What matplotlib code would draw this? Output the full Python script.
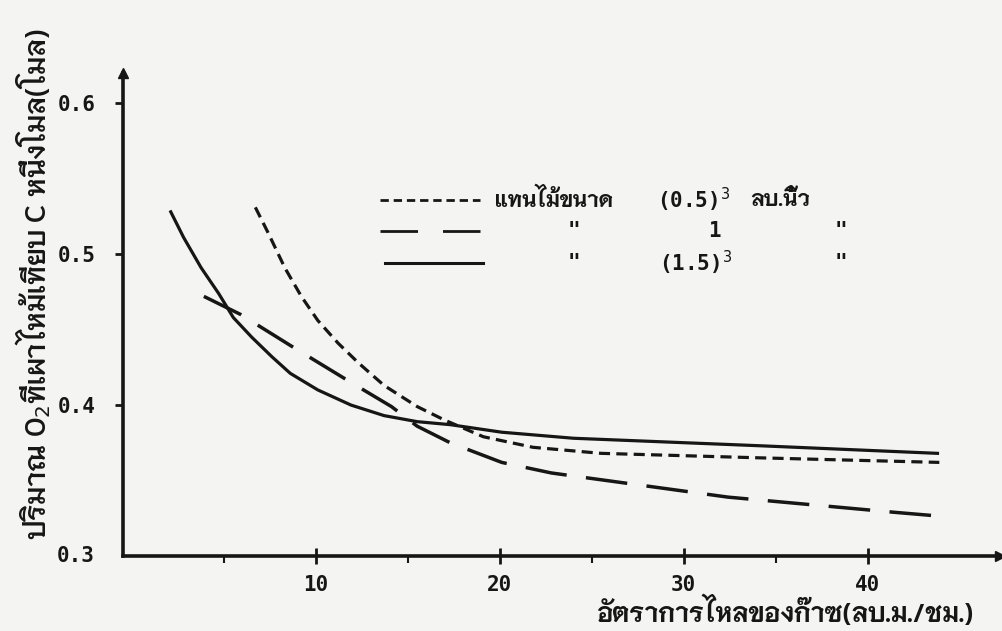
import matplotlib
matplotlib.use("Agg")
import matplotlib.pyplot as plt

# flow rate of gas (m3/h) vs O2 burnt per mol C, for three wood sizes
x_small = [6.7, 7.4, 8.3, 9.2, 10.1, 11.2, 12.3, 13.7, 15.5, 17.0, 19.1, 21.8, 25.5, 34.2, 43.9]
y_small = [0.531, 0.514, 0.491, 0.472, 0.456, 0.441, 0.428, 0.413, 0.399, 0.390, 0.379,
           0.372, 0.368, 0.365, 0.362]

x_mid = [3.9, 5.9, 8.8, 11.9, 14.1, 15.5, 17.3, 20.1, 22.8, 32.4, 41.4, 44.3]
y_mid = [0.472, 0.460, 0.438, 0.415, 0.399, 0.386, 0.375, 0.362, 0.355, 0.339, 0.329, 0.326]

x_big = [2.1, 2.8, 3.75, 4.7, 5.5, 6.5, 7.6, 8.6, 10.1, 11.9, 13.7, 15.5, 17.3, 20.1,
         24.0, 34.2, 43.8]
y_big = [0.528, 0.511, 0.491, 0.474, 0.458, 0.445, 0.432, 0.421, 0.410, 0.400, 0.393,
         0.389, 0.387, 0.382, 0.378, 0.373, 0.368]

xticks = [10, 20, 30, 40]
xminor = [5, 15, 25, 35]
yticks = [0.3, 0.4, 0.5, 0.6]
ytick_labels = ["0.3", "0.4", "0.5", "0.6"]

thai = ["Niramit", "DejaVu Sans"]
mono = ["DejaVu Sans Mono"]
ink = "#161616"
paper = "#f4f4f2"
plt.rcParams["lines.scale_dashes"] = False

fig = plt.figure(figsize=(10.03, 6.31), dpi=100, facecolor=paper)
ax = fig.add_axes([0.1226, 0.1189, 0.8744, 0.7654])
ax.set_facecolor(paper)

ax.plot(x_small, y_small, color=ink, lw=2.3, dashes=(8, 4.5))
ax.plot(x_mid, y_mid, color=ink, lw=2.5, dashes=(30, 14))
ax.plot(x_big, y_big, color=ink, lw=2.3)

ax.set_xlim(-0.5, 47.2)
ax.set_ylim(0.3, 0.62)
for s in ["top", "right"]:
    ax.spines[s].set_visible(False)
for s in ["left", "bottom"]:
    ax.spines[s].set_linewidth(2.6)
    ax.spines[s].set_color(ink)
# arrow heads at the ends of the axes
ax.plot(1, 0, ">", color=ink, ms=7, transform=ax.transAxes, clip_on=False)
ax.plot(0, 1, "^", color=ink, ms=7, transform=ax.transAxes, clip_on=False)

ax.set_xticks(xticks)
ax.set_xticks(xminor, minor=True)
ax.set_yticks(yticks[1:])
ax.set_yticklabels(ytick_labels[1:])
ax.tick_params(axis="x", which="major", direction="inout", length=12, width=2,
               color=ink, pad=8)
ax.tick_params(axis="x", which="minor", direction="out", length=5, width=1.5, color=ink)
ax.tick_params(axis="y", direction="out", length=6, width=2, color=ink, pad=14)
for lab in ax.get_xticklabels() + ax.get_yticklabels():
    lab.set_fontfamily(mono)
    lab.set_fontweight("bold")
    lab.set_fontsize(15)
    lab.set_color(ink)
# 0.3 label sits at the corner
ax.text(-0.032, 0.0, ytick_labels[0], transform=ax.transAxes, ha="right", va="center",
        family=mono, weight="bold", fontsize=15, color=ink)

# legend drawn by hand (ditto marks for the repeated words)
lx = [0.293, 0.407]
rows = [0.737, 0.672, 0.607]
ax.plot(lx, [rows[0]] * 2, color=ink, lw=2, dashes=(6, 3.5), transform=ax.transAxes, clip_on=False)
ax.plot(lx, [rows[1]] * 2, color=ink, lw=2, dashes=(27, 18), transform=ax.transAxes, clip_on=False)
ax.plot([0.299, 0.410], [rows[2]] * 2, color=ink, lw=2.2, transform=ax.transAxes, clip_on=False)
kt = dict(transform=ax.transAxes, va="center", fontsize=15.5, weight="bold", color=ink, family=thai)
kn = dict(transform=ax.transAxes, va="center", fontsize=15, weight="bold", color=ink, family=mono)
ax.text(0.424, rows[0], "แทนไม้ขนาด", **kt)
ax.text(0.609, rows[0], "(0.5)$^3$", **kn)
ax.text(0.715, rows[0], "ลบ.นิ้ว", **kt)
ax.text(0.507, rows[1], '"', **kn)
ax.text(0.667, rows[1], "1", **kn)
ax.text(0.812, rows[1], '"', **kn)
ax.text(0.507, rows[2], '"', **kn)
ax.text(0.611, rows[2], "(1.5)$^3$", **kn)
ax.text(0.812, rows[2], '"', **kn)

fig.text(0.970, 0.004, "อัตราการไหลของก๊าซ(ลบ.ม./ชม.)", ha="right", va="bottom",
         fontsize=18.5, weight="bold", color=ink, family=thai)
fig.text(0.033, 0.144, "ปริมาณ O$_2$ที่เผาไหม้เทียบ C หนึ่งโมล(โมล)", rotation=90,
         ha="center", va="bottom", fontsize=20.5, weight="semibold", color=ink, family=thai)

fig.savefig("out.png", dpi=100, facecolor=paper)
